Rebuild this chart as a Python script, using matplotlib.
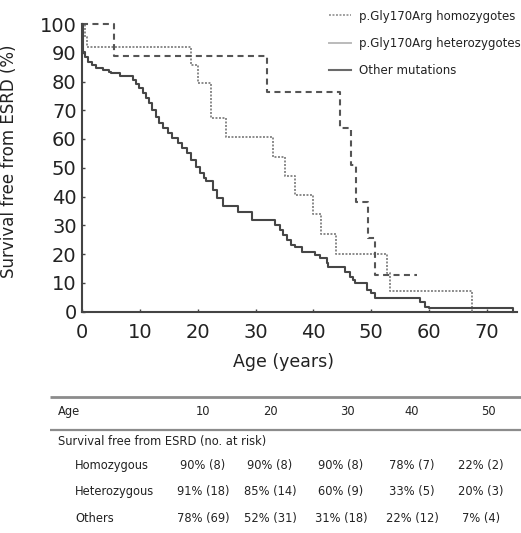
import matplotlib
matplotlib.use('Agg')
import matplotlib.pyplot as plt
from matplotlib.lines import Line2D

# Kaplan-Meier steps (age in years, survival in %)
homo_t = [0, 5.5, 31.9, 44.6, 46.6, 47.4, 49.5, 50.6, 57.9]
homo_s = [100, 88.9, 76.3, 63.7, 51.0, 38.2, 25.5, 12.7, 12.7]

het_t = [0, 0.4, 0.9, 18.9, 20.1, 22.2, 24.9, 33.0, 35.1, 36.8, 40.0, 41.4, 44.0, 52.8, 53.2, 67.4]
het_s = [100, 95.5, 92.1, 85.7, 79.6, 67.2, 60.6, 53.9, 47.1, 40.5, 33.8, 27.0, 20.0, 13.3, 7.1, 0]

oth_t = [0, 0.05, 0.1, 0.15, 0.4, 1.0, 1.6, 2.4, 3.6, 4.7, 5.0, 6.5, 8.8, 9.3, 9.9, 10.5,
         11.1, 11.6, 12.1, 12.7, 13.2, 14.0, 14.8, 15.6, 16.5, 17.3, 18.1, 18.9, 19.7,
         20.4, 21.0, 21.5, 22.7, 23.3, 24.3, 27.0, 29.3, 33.3, 34.2, 34.8, 35.4, 36.2,
         36.8, 38.0, 40.3, 41.1, 42.3, 42.6, 45.5, 46.3, 46.9, 47.2, 49.3, 50.0, 50.6,
         58.5, 59.4, 60.0, 74.6]
oth_s = [100, 96, 93, 90.4, 88.6, 86.9, 85.7, 84.6, 84.0, 83.4, 82.8, 81.9, 80.5, 79.1, 77.6, 75.9,
         74.2, 72.4, 70.1, 67.8, 65.5, 63.7, 62.0, 60.2, 58.5, 56.8, 55.0, 52.7, 50.4,
         48.1, 46.3, 45.4, 42.3, 39.4, 36.7, 34.7, 31.8, 30.1, 28.3, 26.6, 24.8, 23.1,
         22.3, 20.8, 19.6, 18.5, 16.8, 15.6, 13.8, 12.1, 11.0, 9.8, 7.5, 6.3, 4.8,
         3.4, 1.7, 1.1, 0]

legend_labels = ['p.Gly170Arg homozygotes', 'p.Gly170Arg heterozygotes', 'Other mutations']

# at-risk table
ages = ['10', '20', '30', '40', '50']
row_names = ['Homozygous', 'Heterozygous', 'Others']
homo_tab = ['90% (8)', '90% (8)', '90% (8)', '78% (7)', '22% (2)']
het_tab = ['91% (18)', '85% (14)', '60% (9)', '33% (5)', '20% (3)']
oth_tab = ['78% (69)', '52% (31)', '31% (18)', '22% (12)', '7% (4)']

axc = '#444444'
txt = '#222222'

fig = plt.figure(figsize=(5.21, 5.33), dpi=100)
ax = fig.add_axes([82.3/521, 1-311.5/533, 434.4/521, 287.5/533])

ax.step(het_t, het_s, where='post', color='#8a8a8a', lw=1.4, ls=(0, (1, 0.8)), clip_on=False, zorder=3)
ax.step(homo_t, homo_s, where='post', color='#555555', lw=1.5, ls=(0, (2.9, 2.1)), clip_on=False, zorder=4)
ax.step(oth_t, oth_s, where='post', color='#464646', lw=1.5, clip_on=False, zorder=5)

ax.set_xlim(0, 75.2)
ax.set_ylim(0, 100)
ax.set_xticks(range(0, 80, 10))
ax.set_yticks(range(0, 110, 10))
ax.spines['top'].set_visible(False)
ax.spines['right'].set_visible(False)
for s in ['left', 'bottom']:
    ax.spines[s].set_color(axc)
    ax.spines[s].set_linewidth(1.5)
ax.tick_params(direction='in', length=2.5, width=1, color=axc, labelcolor=txt, labelsize=14)
ax.tick_params(axis='x', pad=8)
ax.tick_params(axis='y', pad=4)

ax.set_ylabel('Survival free from ESRD (%)', fontsize=12, color=txt)
ax.yaxis.set_label_coords(-0.148, 0.522)
ax.set_xlabel('Age (years)', fontsize=12.5, color=txt)
ax.xaxis.set_label_coords(0.463, -0.175)
ax.xaxis.label.set_va('center')

handles = [Line2D([], [], color='#a0a0a0', lw=1.4, ls=(0, (1, 0.8))),
           Line2D([], [], color='#bbbbbb', lw=1.4),
           Line2D([], [], color='#6a6a6a', lw=1.5)]
leg = ax.legend(handles, legend_labels, loc='upper left', bbox_to_anchor=(325/521, 1 - 6/533),
                bbox_transform=fig.transFigure, frameon=False, fontsize=8.5,
                handlelength=1.9, handletextpad=0.7, labelspacing=1.22, borderpad=0.3,
                borderaxespad=0)
for t in leg.get_texts():
    t.set_color(txt)

# table below the plot, in pixel coordinates
tab = fig.add_axes([0, 0, 1, 1])
tab.set_xlim(0, 521)
tab.set_ylim(533, 0)
tab.axis('off')
tab.plot([50, 521], [396.7, 396.7], color='#8c8c8c', lw=2.0, solid_capstyle='butt')
tab.plot([50, 521], [430, 430], color='#8c8c8c', lw=1.6, solid_capstyle='butt')

fs = 8.3
head_x = [203, 270, 347, 412, 488]
val_x = [203, 270, 341, 412, 481]
tab.text(58, 411.7, 'Age', fontsize=fs, color=txt, va='center', ha='left')
for x, a in zip(head_x, ages):
    tab.text(x, 411.7, a, fontsize=fs, color=txt, va='center', ha='center')
tab.text(58, 441.7, 'Survival free from ESRD (no. at risk)', fontsize=fs, color=txt, va='center', ha='left')
for y, name, vals in zip([465, 491.7, 518.3], row_names, [homo_tab, het_tab, oth_tab]):
    tab.text(75, y, name, fontsize=fs, color=txt, va='center', ha='left')
    for x, v in zip(val_x, vals):
        tab.text(x, y, v, fontsize=fs, color=txt, va='center', ha='center')

fig.savefig('out.png', dpi=100)
